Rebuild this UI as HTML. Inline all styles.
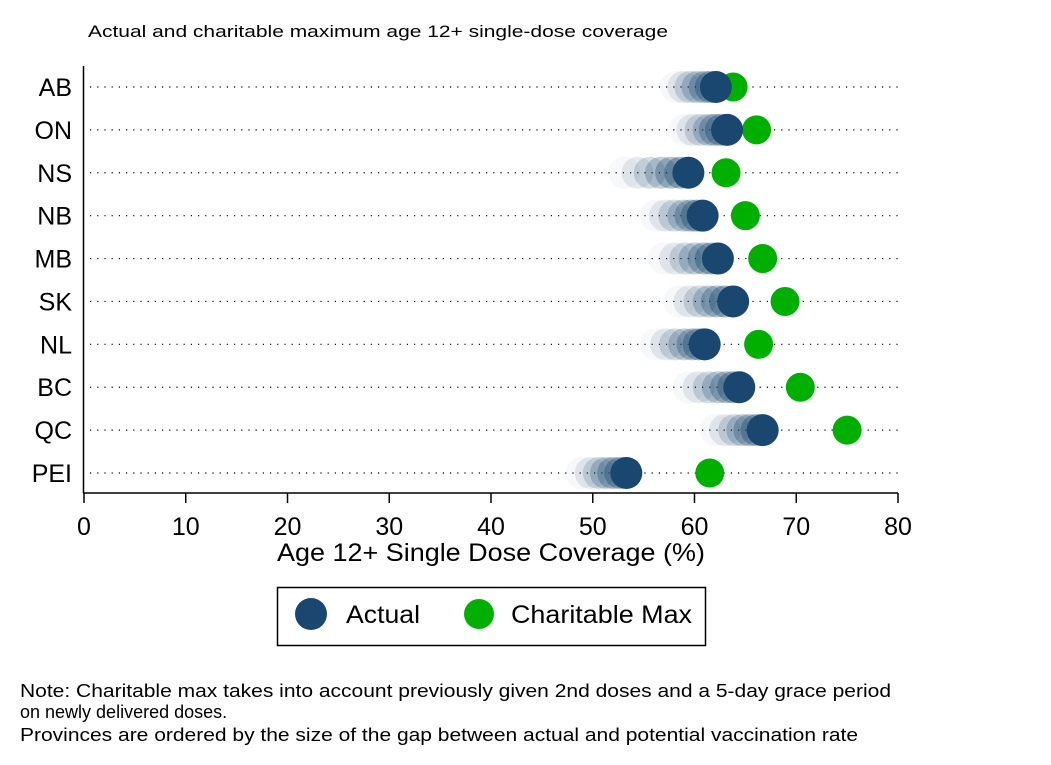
<!DOCTYPE html>
<html><head><meta charset="utf-8"><style>
body{margin:0;background:#fff;}
svg{display:block;font-family:"Liberation Sans",Arial,sans-serif;}
</style></head><body>
<svg id="c" width="1051" height="765" viewBox="0 0 1051 765">
<rect width="1051" height="765" fill="#fff"/>
<text x="88" y="37" font-size="17" textLength="580" lengthAdjust="spacingAndGlyphs" fill="#000">Actual and charitable maximum age 12+ single-dose coverage</text>
<g id="grid"></g>
<g id="ghosts"></g>
<g id="marks"></g>
<line x1="83.5" y1="66" x2="83.5" y2="493" stroke="#000" stroke-width="1.5"/>
<line x1="83" y1="493" x2="898" y2="493" stroke="#000" stroke-width="1.5"/>
<g id="xt"></g>
<g id="yt"></g>
<text x="277" y="561" font-size="25" textLength="428" lengthAdjust="spacingAndGlyphs">Age 12+ Single Dose Coverage (%)</text>
<g>
<rect x="277.5" y="587.5" width="428" height="58" fill="#fff" stroke="#000" stroke-width="1.5"/>
<circle cx="311" cy="614" r="16" fill="#1a476f"/>
<text x="346" y="623" font-size="25" textLength="74" lengthAdjust="spacingAndGlyphs">Actual</text>
<circle cx="479" cy="614" r="15" fill="#00b000"/>
<text x="511" y="623" font-size="25" textLength="181" lengthAdjust="spacingAndGlyphs">Charitable Max</text>
</g>
<g font-size="18">
<text x="20" y="697" textLength="871" lengthAdjust="spacingAndGlyphs">Note: Charitable max takes into account previously given 2nd doses and a 5-day grace period</text>
<text x="20" y="718">on newly delivered doses.</text>
<text x="20" y="741" textLength="838" lengthAdjust="spacingAndGlyphs">Provinces are ordered by the size of the gap between actual and potential vaccination rate</text>
</g>
</svg>
<script>
const provinces = ["AB","ON","NS","NB","MB","SK","NL","BC","QC","PEI"];
const actual = [62.1,63.2,59.4,60.8,62.3,63.8,61.0,64.4,66.7,53.3];
const charitable = [63.8,66.1,63.1,65.0,66.7,68.9,66.3,70.4,75.0,61.5];
const history = [
 [58.2,58.9,59.6,60.3,61.0,61.6],
 [59.0,59.8,60.6,61.4,62.0,62.6],
 [53.1,54.4,55.6,56.7,57.7,58.6],
 [56.2,57.1,58.0,58.9,59.6,60.2],
 [57.0,58.1,59.1,60.0,60.9,61.6],
 [58.5,59.5,60.5,61.4,62.2,63.0],
 [56.2,57.2,58.1,59.0,59.8,60.4],
 [59.4,60.4,61.4,62.3,63.1,63.8],
 [62.1,63.0,63.9,64.7,65.4,66.1],
 [48.9,49.8,50.6,51.3,52.0,52.7]
];
const xTicks = [0,10,20,30,40,50,60,70,80];
const ns="http://www.w3.org/2000/svg";
const x = v => 84 + v*(898-84)/80;
const y = i => 87 + i*(473-87)/9;
function mk(tag,attrs,parent){const e=document.createElementNS(ns,tag);for(const k in attrs)e.setAttribute(k,attrs[k]);document.getElementById(parent).appendChild(e);return e;}
provinces.forEach((p,i)=>{
  const g=mk('line',{x1:90,x2:898,y1:y(i),y2:y(i),stroke:'#000','stroke-width':1.2,'stroke-dasharray':'1.2 6'},'grid');
  
  
  const t=mk('text',{x:72,y:y(i)+9,'font-size':25,'text-anchor':'end'},'yt');
  t.textContent=p;
  
  
  history[i].forEach((v,j)=>{
    const c=mk('circle',{cx:x(v),cy:y(i),r:16,fill:'#1a476f','fill-opacity':0.04+j*0.07},'ghosts');
    
    
  });
  const cg=mk('circle',{cx:x(charitable[i]),cy:y(i),r:14.5,fill:'#00b000'},'marks');
  
  
  const ca=mk('circle',{cx:x(actual[i]),cy:y(i),r:16,fill:'#1a476f'},'marks');
  
  
});
xTicks.forEach(v=>{
  const l=mk('line',{x1:x(v),x2:x(v),y1:493,y2:503,stroke:'#000','stroke-width':1.5},'xt');
  
  
  const t=mk('text',{x:x(v),y:535,'font-size':25,'text-anchor':'middle'},'xt');
  t.textContent=v;
  
  
});
</script>
</body></html>
